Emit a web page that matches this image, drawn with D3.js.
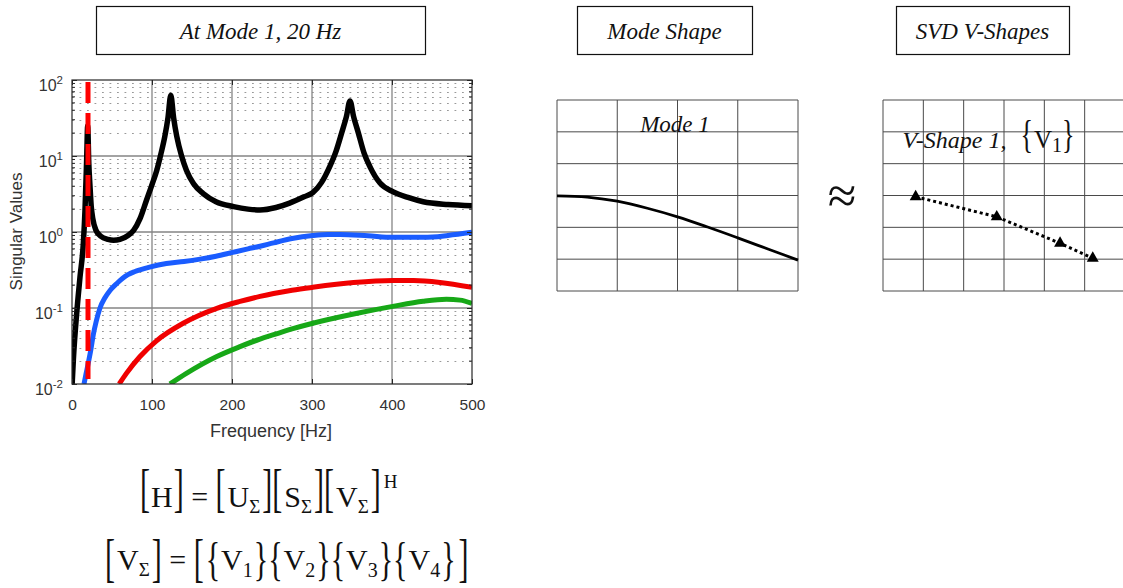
<!DOCTYPE html>
<html>
<head>
<meta charset="utf-8">
<script src="https://cdn.jsdelivr.net/npm/d3@7"></script>
<style>
  body { margin: 0; background: #fff; }
  svg { display: block; }
</style>
</head>
<body>
<svg id="fig" width="1123" height="588"></svg>
<script>
// ---- Singular value curves (frequency in Hz, singular value) ----
const sv1Freq = [0.2, 1.7, 5.9, 10, 14.2, 16.25, 18.3, 19.6, 21, 22.5, 24, 26, 30, 36, 45, 52, 60, 70, 77, 85, 93, 100, 106, 111, 116, 120, 123.5, 127, 131, 137, 143, 152, 164, 180, 202, 220, 235, 255, 272, 290, 301, 312, 322, 330, 337, 343, 347.5, 352, 358, 365, 372.5, 385, 401, 420, 439, 470, 500];
const sv1Val  = [0.01, 0.0207, 0.086, 0.255, 0.72, 1.94, 8.9, 25, 8, 4, 2.2, 1.5, 1.05, 0.88, 0.8, 0.78, 0.8, 0.9, 1.05, 1.5, 2.6, 4.2, 6.5, 10.5, 18, 32, 63, 32, 18, 10, 6.5, 4.3, 3.2, 2.5, 2.16, 2.0, 1.95, 2.1, 2.4, 2.9, 3.3, 4.5, 7.2, 11.5, 20, 33, 53, 33, 20, 11, 7.2, 4.4, 3.4, 2.85, 2.5, 2.3, 2.22];

const sv2Freq = [15, 17.5, 20.4, 23.5, 26.7, 30, 35, 41, 47.5, 56, 63, 70, 78, 85, 97, 118, 140, 160, 180, 201, 220, 235, 252, 275, 301, 320, 335, 370, 401, 440, 470, 500];
const sv2Val  = [0.01, 0.0135, 0.019, 0.028, 0.045, 0.065, 0.1, 0.135, 0.17, 0.21, 0.245, 0.275, 0.3, 0.318, 0.345, 0.385, 0.41, 0.44, 0.48, 0.54, 0.6, 0.65, 0.72, 0.82, 0.9, 0.93, 0.93, 0.89, 0.85, 0.85, 0.9, 0.99];

const sv3Freq = [59, 68, 85, 106, 139, 181, 210, 235, 252, 275, 301, 352, 401, 427, 460, 500];
const sv3Val  = [0.01, 0.0138, 0.023, 0.0373, 0.063, 0.099, 0.122, 0.142, 0.155, 0.171, 0.187, 0.216, 0.23, 0.23, 0.217, 0.187];

const sv4Freq = [122.5, 143, 181, 210, 235, 252, 275, 301, 352, 401, 439, 468, 485, 500];
const sv4Val  = [0.01, 0.0138, 0.023, 0.031, 0.039, 0.0445, 0.053, 0.063, 0.0834, 0.105, 0.1225, 0.13, 0.127, 0.115];

const seriesColors = ["#000000", "#1a5cff", "#f00000", "#17a817"];
const modeFreq = 20;                          // dashed marker: Mode 1
const xTicks = [0, 100, 200, 300, 400, 500];
const yTickExps = [2, 1, 0, -1, -2];

// ---- Mode shape (grid units) ----
const modeX = [0, 0.5, 1, 1.5, 2, 2.5, 3, 3.5, 4];
const modeY = [2.99, 2.95, 2.82, 2.60, 2.33, 2.01, 1.67, 1.32, 0.97];

// ---- SVD V-shape points (grid units) ----
const vShapeX = [0.81, 2.82, 4.39, 5.2];
const vShapeY = [2.96, 2.33, 1.50, 1.03];

const panelTitles = ["At Mode 1, 20 Hz", "Mode Shape", "SVD V-Shapes"];

const svg = d3.select("#fig");
const SERIF = "'Liberation Serif', 'Times New Roman', serif";
const SANS = "'Liberation Sans', Arial, Helvetica, sans-serif";
const AXC = "#262626";

// ================= Titles in boxes =================
const titleBoxes = [
  { x0: 96, x1: 425 },
  { x0: 577, x1: 752 },
  { x0: 896, x1: 1069 }
];
titleBoxes.forEach((b, i) => {
  svg.append("rect").attr("x", b.x0 + 0.5).attr("y", 6.5)
    .attr("width", b.x1 - b.x0).attr("height", 48)
    .attr("fill", "#fff").attr("stroke", "#111").attr("stroke-width", 1.2);
  svg.append("text").attr("x", (b.x0 + b.x1) / 2).attr("y", 38.5)
    .attr("text-anchor", "middle").attr("font-family", SERIF)
    .attr("font-style", "italic").attr("font-size", 23).attr("fill", "#111")
    .text(panelTitles[i]);
});

// ================= Singular value plot =================
const x = d3.scaleLinear().domain([0, 500]).range([72, 472]);
const y = d3.scaleLog().domain([0.01, 100]).range([384, 80]);
const plot = svg.append("g");

plot.append("rect").attr("x", 72).attr("y", 80).attr("width", 400).attr("height", 304).attr("fill", "#fff");

// minor (dotted) horizontal grid at 2..9 x 10^k
const minorVals = [];
for (let k = -2; k < 2; k++) for (let m = 2; m <= 9; m++) minorVals.push(m * Math.pow(10, k));
plot.append("g").selectAll("line").data(minorVals).join("line")
  .attr("x1", x(0)).attr("x2", x(500))
  .attr("y1", d => Math.round(y(d)) + 0.5).attr("y2", d => Math.round(y(d)) + 0.5)
  .attr("stroke", "#999").attr("stroke-width", 1.2).attr("stroke-dasharray", "1.8,5.7");

// major grid
const majorY = yTickExps.map(e => Math.pow(10, e)).filter(v => v > 0.01 && v < 100);
plot.append("g").selectAll("line").data(majorY).join("line")
  .attr("x1", x(0)).attr("x2", x(500))
  .attr("y1", d => y(d)).attr("y2", d => y(d))
  .attr("stroke", "#858585").attr("stroke-width", 1.3);
plot.append("g").selectAll("line").data(xTicks.filter(v => v > 0 && v < 500)).join("line")
  .attr("x1", d => x(d)).attr("x2", d => x(d))
  .attr("y1", y(100)).attr("y2", y(0.01))
  .attr("stroke", "#858585").attr("stroke-width", 1.3);

// curves
svg.append("clipPath").attr("id", "plotClip").append("rect")
  .attr("x", 72).attr("y", 80).attr("width", 400).attr("height", 304);
const curves = plot.append("g").attr("clip-path", "url(#plotClip)");
const line = d3.line().x(d => x(d[0])).y(d => y(d[1])).curve(d3.curveMonotoneX);
const series = [
  { f: sv1Freq, v: sv1Val, w: 5.5 },
  { f: sv2Freq, v: sv2Val, w: 5 },
  { f: sv3Freq, v: sv3Val, w: 5 },
  { f: sv4Freq, v: sv4Val, w: 5 }
];
// draw smaller singular values first, largest on top
series.slice().reverse().forEach((s, j) => {
  const i = series.length - 1 - j;
  curves.append("path").datum(d3.zip(s.f, s.v))
    .attr("d", line).attr("fill", "none")
    .attr("stroke", seriesColors[i]).attr("stroke-width", s.w)
    .attr("stroke-linejoin", "round");
});

// vertical dashed marker at the mode frequency
plot.append("line")
  .attr("x1", x(modeFreq)).attr("x2", x(modeFreq))
  .attr("y1", y(100) + 2).attr("y2", y(0.01) - 5)
  .attr("stroke", "#ff0000").attr("stroke-width", 5)
  .attr("stroke-dasharray", "21,10");

// axes box
plot.append("rect").attr("x", 72).attr("y", 80).attr("width", 400).attr("height", 304)
  .attr("fill", "none").attr("stroke", AXC).attr("stroke-width", 1.2);

// minor ticks (inward) on left and right
const tk = plot.append("g").attr("stroke", AXC).attr("stroke-width", 1);
minorVals.forEach(v => {
  tk.append("line").attr("x1", 72).attr("x2", 75).attr("y1", y(v)).attr("y2", y(v));
  tk.append("line").attr("x1", 469).attr("x2", 472).attr("y1", y(v)).attr("y2", y(v));
});

// x axis
const xAxis = d3.axisBottom(x).tickValues(xTicks).tickSizeInner(-5).tickSizeOuter(0).tickPadding(11);
const gx = plot.append("g").attr("transform", "translate(0,384)").call(xAxis);
gx.select(".domain").remove();
gx.selectAll(".tick line").attr("stroke", AXC);
gx.selectAll(".tick text").attr("font-family", SANS).attr("font-size", 15.5)
  .attr("fill", "#333").attr("y", 25.5).attr("dy", 0);
// top ticks
const gxTop = plot.append("g").attr("transform", "translate(0,80)")
  .call(d3.axisTop(x).tickValues(xTicks).tickSizeInner(-5).tickSizeOuter(0).tickFormat(""));
gxTop.select(".domain").remove();
gxTop.selectAll(".tick line").attr("stroke", AXC);

// y axis with power-of-ten labels
const yTickVals = yTickExps.map(e => Math.pow(10, e));
const yAxis = d3.axisLeft(y).tickValues(yTickVals).tickSizeInner(-5).tickSizeOuter(0).tickPadding(9);
const gy = plot.append("g").attr("transform", "translate(72,0)").call(yAxis);
gy.select(".domain").remove();
gy.selectAll(".tick line").attr("stroke", AXC);
gy.selectAll(".tick text").each(function (d, i) {
  const t = d3.select(this);
  t.text("").attr("font-family", SANS).attr("font-size", 16).attr("fill", "#333")
    .attr("x", -9).attr("dy", 10.5);
  t.append("tspan").text("10");
  t.append("tspan").attr("dy", -7.5).attr("font-size", 11.5).text(String(Math.round(Math.log10(d))));
});
const gyR = plot.append("g").attr("transform", "translate(472,0)")
  .call(d3.axisRight(y).tickValues(yTickVals).tickSizeInner(-5).tickSizeOuter(0).tickFormat(""));
gyR.select(".domain").remove();
gyR.selectAll(".tick line").attr("stroke", AXC);

// axis titles
svg.append("text").attr("x", 271).attr("y", 437).attr("text-anchor", "middle")
  .attr("font-family", SANS).attr("font-size", 18).attr("fill", "#333").text("Frequency [Hz]");
svg.append("text").attr("transform", "translate(21.5,231.5) rotate(-90)").attr("text-anchor", "middle")
  .attr("font-family", SANS).attr("font-size", 17).attr("fill", "#333").text("Singular Values");

// ================= Mode shape panel =================
const mx = d3.scaleLinear().domain([0, 4]).range([557, 798]);
const my = d3.scaleLinear().domain([0, 6]).range([291, 100]);
const mode = svg.append("g");
mode.append("g").selectAll("line").data(d3.range(0, 5)).join("line")
  .attr("x1", d => mx(d)).attr("x2", d => mx(d)).attr("y1", my(0)).attr("y2", my(6))
  .attr("stroke", "#4a4a4a").attr("stroke-width", 1);
mode.append("g").selectAll("line").data(d3.range(0, 7)).join("line")
  .attr("x1", mx(0)).attr("x2", mx(4)).attr("y1", d => my(d)).attr("y2", d => my(d))
  .attr("stroke", "#4a4a4a").attr("stroke-width", 1);
mode.append("path").datum(d3.zip(modeX, modeY))
  .attr("d", d3.line().x(d => mx(d[0])).y(d => my(d[1])).curve(d3.curveMonotoneX))
  .attr("fill", "none").attr("stroke", "#000").attr("stroke-width", 2.8);
mode.append("text").attr("x", 675).attr("y", 131.5).attr("text-anchor", "middle")
  .attr("font-family", SERIF).attr("font-style", "italic").attr("font-size", 23).attr("fill", "#111")
  .text("Mode 1");

// approximately-equal sign
svg.append("text").attr("x", 842).attr("y", 213).attr("text-anchor", "middle")
  .attr("font-family", SERIF).attr("font-size", 52).attr("fill", "#111").text("≈");

// ================= SVD V-shape panel =================
const vx = d3.scaleLinear().domain([0, 6]).range([883, 1125]);
const vy = d3.scaleLinear().domain([0, 6]).range([291, 100]);
const vs = svg.append("g");
vs.append("g").selectAll("line").data(d3.range(0, 7)).join("line")
  .attr("x1", d => vx(d)).attr("x2", d => vx(d)).attr("y1", vy(0)).attr("y2", vy(6))
  .attr("stroke", "#4a4a4a").attr("stroke-width", 1);
vs.append("g").selectAll("line").data(d3.range(0, 7)).join("line")
  .attr("x1", vx(0)).attr("x2", vx(6)).attr("y1", d => vy(d)).attr("y2", d => vy(d))
  .attr("stroke", "#4a4a4a").attr("stroke-width", 1);
const vPts = d3.zip(vShapeX, vShapeY);
vs.append("path").datum(vPts)
  .attr("d", d3.line().x(d => vx(d[0])).y(d => vy(d[1])))
  .attr("fill", "none").attr("stroke", "#000").attr("stroke-width", 3)
  .attr("stroke-dasharray", "3,3");
vs.selectAll("path.tri").data(vPts).join("path").attr("class", "tri")
  .attr("transform", d => `translate(${vx(d[0])},${vy(d[1])})`)
  .attr("d", d3.symbol(d3.symbolTriangle, 62)).attr("fill", "#000");

// ================= Math typesetting helper =================
function typeset(tokens, x0, baseline) {
  const g = svg.append("g");
  let cx = x0;
  tokens.forEach(t => {
    const size = t.size || 30;
    const el = g.append("text")
      .attr("font-family", SERIF).attr("font-size", size)
      .attr("font-style", t.italic ? "italic" : "normal")
      .attr("fill", "#111").attr("xml:space", "preserve").text(t.s);
    const w = el.node().getComputedTextLength();
    let by = baseline + (t.dy || 0), sy = 1;
    if (t.span) {
      // stretch a delimiter vertically to cover [top, bottom]
      const [T, B] = t.span;
      sy = (B - T) / (0.87 * size);
      by = B - 0.18 * size * sy;
    }
    el.attr("transform", `translate(${cx + (t.pre || 0)},${by}) scale(1,${sy})`);
    cx += w + (t.pre || 0) + (t.post || 0);
  });
  return g;
}

// V-Shape label
typeset([
  { s: "V-Shape 1,", italic: true, size: 24, post: 14 },
  { s: "{", size: 26, span: [120, 155] },
  { s: "V", size: 25, pre: 1 },
  { s: "1", size: 20, dy: 4 },
  { s: "}", size: 26, span: [120, 155] }
], 902.5, 148);

// Equations
const br1 = [470, 515], br2 = [540, 585], bc2 = [542, 583];
const sub = (s, dy) => ({ s: s, size: 19, dy: dy });
typeset([
  { s: "[", span: br1, post: 1 }, { s: "H", post: 1 }, { s: "]", span: br1 },
  { s: " = " },
  { s: "[", span: br1, post: 2 }, { s: "U" }, sub("Σ", 6), { s: "]", span: br1, pre: 2 },
  { s: "[", span: br1, post: 2 }, { s: "S" }, sub("Σ", 6), { s: "]", span: br1, pre: 2 },
  { s: "[", span: br1, post: 2 }, { s: "V" }, sub("Σ", 6), { s: "]", span: br1, pre: 2 },
  { s: "H", size: 19, dy: -19, pre: 3 }
], 140, 507);

const vec = n => [
  { s: "{", span: bc2, post: 1 }, { s: "V" }, { s: String(n), size: 20, dy: 7 }, { s: "}", span: bc2, pre: 1 }
];
typeset([
  { s: "[", span: br2, post: 2 }, { s: "V" }, sub("Σ", 6), { s: "]", span: br2, pre: 2 },
  { s: " = " },
  { s: "[", span: br2, post: 2 },
  ...vec(1), ...vec(2), ...vec(3), ...vec(4),
  { s: "]", span: br2, pre: 3 }
], 105, 570);
</script>
</body>
</html>
